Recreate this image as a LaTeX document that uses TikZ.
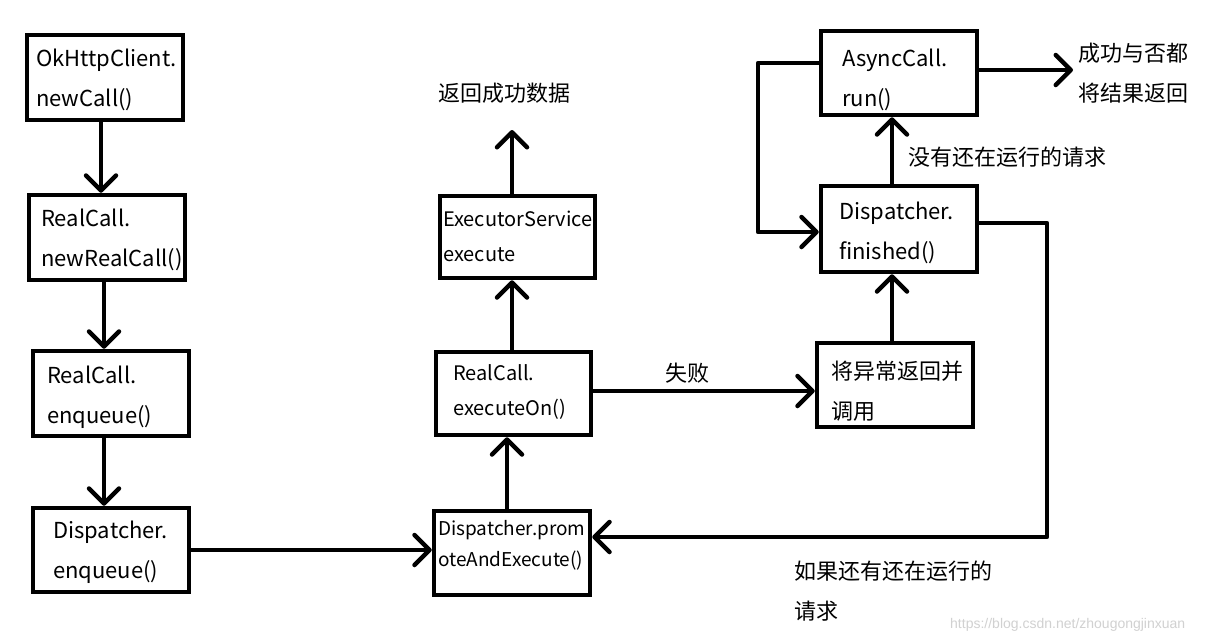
\documentclass[tikz,border=0pt]{standalone}
\usepackage{fontspec}
\setmainfont{Noto Sans CJK SC}
\newfontfamily\wmfont{Liberation Sans}
\usetikzlibrary{arrows.meta}
\tikzset{
  box/.style={draw=black, line width=4.5pt, rectangle, inner sep=0pt},
  lbl/.style={anchor=west, inner sep=0pt, align=left, font=\fontsize{22}{40}\selectfont},
  lblm/.style={anchor=west, inner sep=0pt, align=left, font=\fontsize{20}{35}\selectfont},
  lbls/.style={anchor=west, inner sep=0pt, align=left, font=\fontsize{19}{31}\selectfont},
  conn/.style={draw=black, line width=4.5pt, line cap=round, line join=round},
  arr/.style={conn, -{Straight Barb[length=15pt,width=30pt,round]}},
}
\begin{document}
\begin{tikzpicture}[x=1pt,y=-1pt]
\useasboundingbox[fill=white] (0,0) rectangle (1226,643);
% boxes
\node[box, minimum width=156pt, minimum height=85pt] (b1) at (105,77.5) {};
\node[box, minimum width=156pt, minimum height=85pt] (b2) at (107,237.5) {};
\node[box, minimum width=156pt, minimum height=85pt] (b3) at (111,393.5) {};
\node[box, minimum width=156pt, minimum height=84pt] (b4) at (111,550) {};
\node[box, minimum width=156pt, minimum height=84pt] (pr) at (512,553) {};
\node[box, minimum width=155pt, minimum height=83pt] (eo) at (513.5,393.5) {};
\node[box, minimum width=155pt, minimum height=82pt] (es) at (517.5,237) {};
\node[box, minimum width=156pt, minimum height=84pt] (ex) at (895,385) {};
\node[box, minimum width=156pt, minimum height=86pt] (fi) at (899,229) {};
\node[box, minimum width=156pt, minimum height=84pt] (ac) at (899,73) {};
% box texts
\node[lbl] (b1t) at (36,80) {OkHttpClient.\\newCall()};
\node[lbl] (b2t) at (41,240) {RealCall.\\newRealCall()};
\node[lbl] (b3t) at (47,397) {RealCall.\\enqueue()};
\node[lbl] (b4t) at (53,552) {Dispatcher.\\enqueue()};
\node[lbls] (prt) at (438,545) {Dispatcher.prom\\oteAndExecute()};
\node[lblm] (eot) at (453,392) {RealCall.\\executeOn()};
\node[lblm] (est) at (443,236) {ExecutorService\\execute};
\node[lbl] (ext) at (831,391) {将异常返回并\\调用};
\node[lbl] (fit) at (839,233) {Dispatcher.\\finished()};
\node[lbl] (act) at (842,80) {AsyncCall.\\run()};
% free labels
\node[lbl] (l1) at (438,93) {返回成功数据};
\node[lbl] (l2) at (665,373) {失败};
\node[lbl] (l3) at (908,157) {没有还在运行的请求};
\node[lbl] (l4) at (1078,73) {成功与否都\\将结果返回};
\node[lbl] (l5) at (794,591) {如果还有还在运行的\\请求};
\node[anchor=west, inner sep=0pt, text=black!18, font=\wmfont\fontsize{14}{16}\selectfont] (wm) at (950,625) {https://blog.csdn.net/zhougongjinxuan};
% coordinates
\coordinate (up) at (512,130);
\coordinate (rt) at (1073,70);
\coordinate (lpL1) at (758,63);
\coordinate (lpL2) at (758,232);
\coordinate (fbR1) at (1047,223);
\coordinate (fbR2) at (1047,537);
% connectors
\draw[arr] ([xshift=-4pt]b1.south) -- ([xshift=-6pt]b2.north);
\draw[arr] ([xshift=-3pt]b2.south) -- ([xshift=-7pt]b3.north);
\draw[arr] ([xshift=-7pt]b3.south) -- ([xshift=-7pt]b4.north);
\draw[arr] (b4.east) -- (pr.west |- b4.east);
\draw[arr] ([xshift=-5pt]pr.north) -- ([xshift=-6.5pt]eo.south);
\draw[arr] ([xshift=-1.5pt]eo.north) -- ([xshift=-5.5pt]es.south);
\draw[arr] ([xshift=-5.5pt]es.north) -- (up);
\draw[arr] (eo.east |- 0,391) -- (ex.west |- 0,391);
\draw[arr] ([xshift=-3pt]ex.north) -- ([xshift=-7pt]fi.south);
\draw[arr] ([xshift=-7pt]fi.north) -- ([xshift=-7pt]ac.south);
\draw[arr] (ac.east |- rt) -- (rt);
\draw[arr] (ac.west |- lpL1) -- (lpL1) -- (lpL2) -- (fi.west |- lpL2);
\draw[arr] (fi.east |- fbR1) -- (fbR1) -- (fbR2) -- (pr.east |- fbR2);
\end{tikzpicture}
\end{document}
